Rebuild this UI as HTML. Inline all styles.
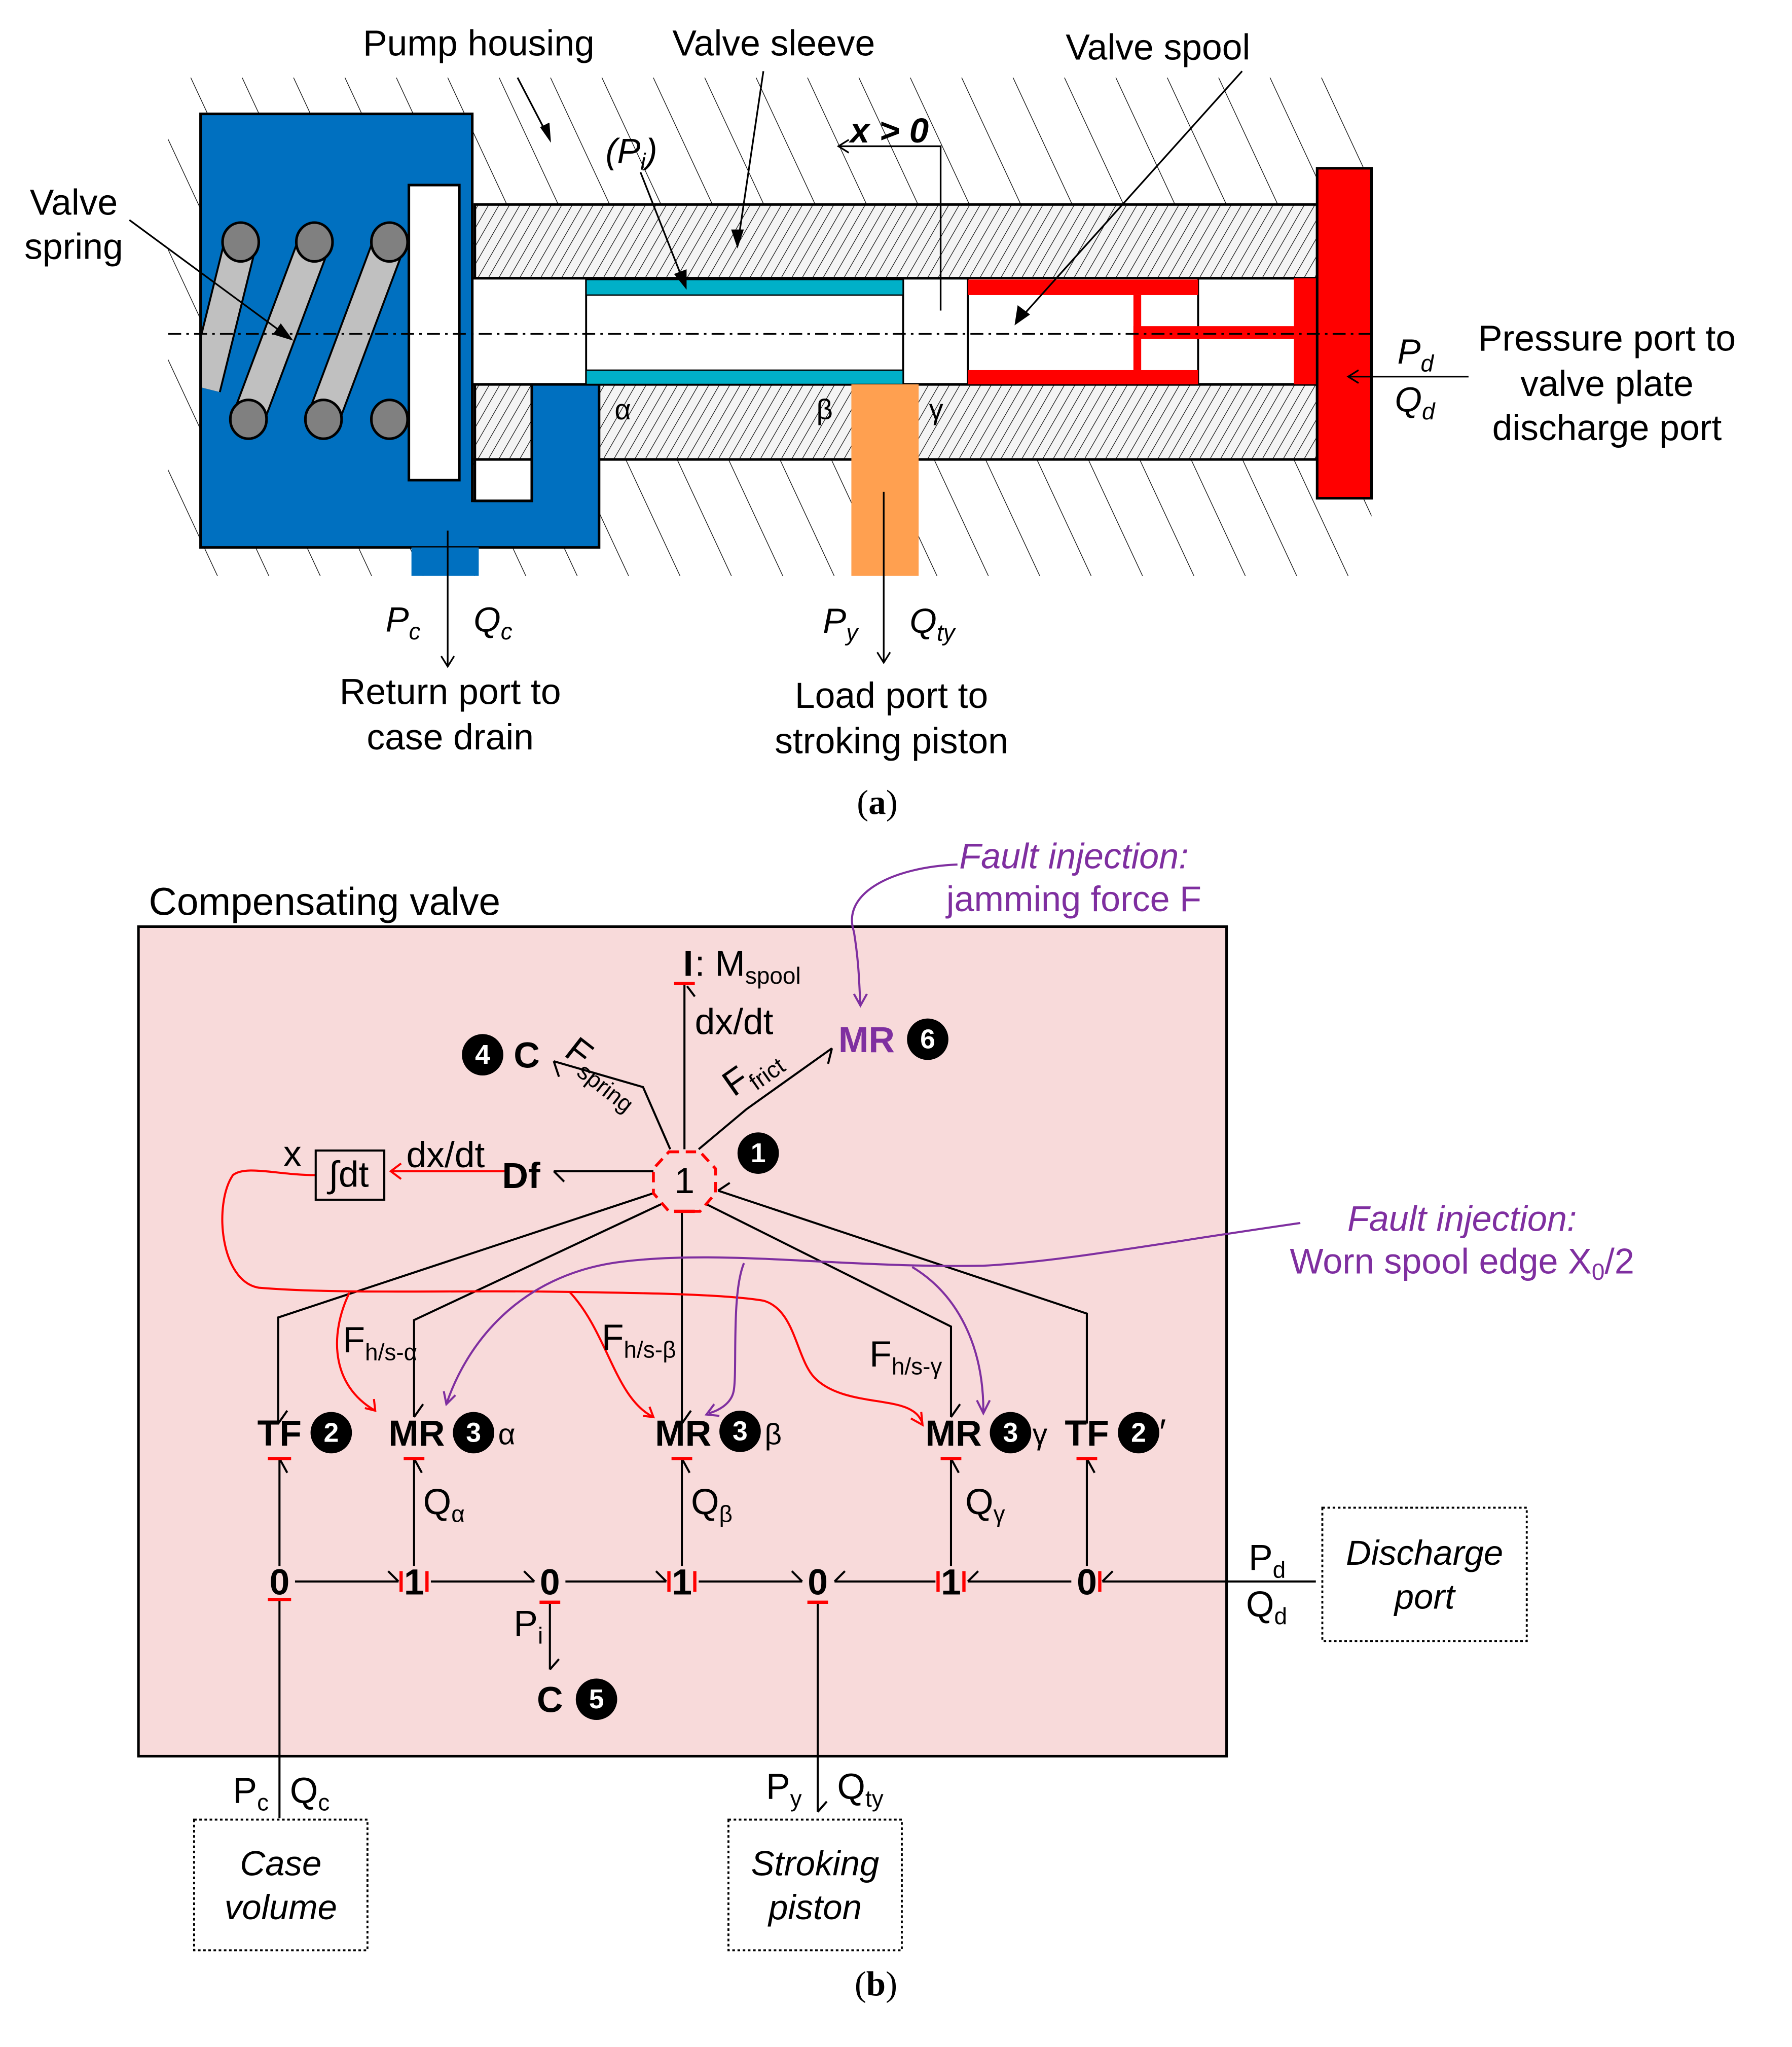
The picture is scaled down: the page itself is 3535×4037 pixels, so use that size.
<!DOCTYPE html>
<html><head><meta charset="utf-8"><style>html,body{margin:0;padding:0;background:#fff}svg{display:block}</style></head>
<body>
<svg xmlns="http://www.w3.org/2000/svg" width="3535" height="4037" viewBox="0 0 1385 1581.7" font-family="Liberation Sans, sans-serif">
<defs>
<pattern id="hb" width="36" height="36" patternUnits="userSpaceOnUse" patternTransform="rotate(-25)">
<line x1="0" y1="0" x2="0" y2="36" stroke="#000" stroke-width="1"/></pattern>
<pattern id="hs" width="7" height="7" patternUnits="userSpaceOnUse" patternTransform="rotate(30)">
<rect width="7" height="7" fill="#f4f4f4"/><line x1="0" y1="0" x2="0" y2="7" stroke="#000" stroke-width="0.9"/></pattern>
<clipPath id="body"><rect x="156" y="89" width="209" height="333"/></clipPath>
</defs>
<rect x="130" y="60" width="930" height="385" fill="url(#hb)"/>
<rect x="367" y="158" width="651" height="57" fill="url(#hs)" stroke="#000" stroke-width="2"/>
<rect x="367" y="297" width="651" height="58" fill="url(#hs)" stroke="#000" stroke-width="2"/>
<rect x="355" y="215" width="663" height="82" fill="#fff" stroke="#000" stroke-width="2"/>
<path d="M155 88 H365 V387 H411 V297 H463 V423 H155 Z" fill="#0070c0" stroke="#000" stroke-width="2"/>
<rect x="367" y="355" width="44" height="32" fill="#fff" stroke="#000" stroke-width="2"/>
<rect x="318" y="423" width="52" height="22" fill="#0070c0"/>
<g stroke="#000" stroke-width="1.5" clip-path="url(#body)">
<line x1="158" y1="300" x2="186" y2="187" stroke="#000" stroke-width="26"/>
<line x1="158" y1="300" x2="186" y2="187" stroke="#c0c0c0" stroke-width="23"/>
<line x1="192" y1="323" x2="243" y2="187" stroke="#000" stroke-width="26"/>
<line x1="192" y1="323" x2="243" y2="187" stroke="#c0c0c0" stroke-width="23"/>
<line x1="250" y1="323" x2="301" y2="187" stroke="#000" stroke-width="26"/>
<line x1="250" y1="323" x2="301" y2="187" stroke="#c0c0c0" stroke-width="23"/>
<ellipse cx="186" cy="187" rx="14" ry="15" fill="#808080" stroke-width="2"/>
<ellipse cx="243" cy="187" rx="14" ry="15" fill="#808080" stroke-width="2"/>
<ellipse cx="301" cy="187" rx="14" ry="15" fill="#808080" stroke-width="2"/>
<ellipse cx="192" cy="324" rx="14" ry="15" fill="#808080" stroke-width="2"/>
<ellipse cx="250" cy="324" rx="14" ry="15" fill="#808080" stroke-width="2"/>
<ellipse cx="301" cy="324" rx="14" ry="15" fill="#808080" stroke-width="2"/>
</g>
<rect x="316" y="143" width="39" height="228" fill="#fff" stroke="#000" stroke-width="2"/>
<rect x="453" y="215" width="245" height="82" fill="#fff" stroke="#000" stroke-width="1.5"/>
<rect x="453" y="216" width="245" height="12" fill="#00b0c8" stroke="#000" stroke-width="1"/>
<rect x="453" y="286" width="245" height="11" fill="#00b0c8" stroke="#000" stroke-width="1"/>
<rect x="748" y="215" width="178" height="82" fill="#fff" stroke="#000" stroke-width="1.5"/>
<rect x="748" y="216" width="178" height="12" fill="#ff0000"/>
<rect x="748" y="286" width="178" height="11" fill="#ff0000"/>
<rect x="876" y="228" width="6" height="58" fill="#ff0000"/>
<rect x="876" y="252" width="124" height="10" fill="#ff0000"/>
<rect x="1000" y="215" width="18" height="82" fill="#ff0000"/>
<rect x="1018" y="130" width="42" height="255" fill="#ff0000" stroke="#000" stroke-width="2"/>
<rect x="658" y="297" width="52" height="148" fill="#ffa050"/>
<line x1="130" y1="258" x2="1060" y2="258" stroke="#000" stroke-width="1.3" stroke-dasharray="10 4 2 4"/>
<g stroke="#000" stroke-width="1.3" fill="none">
<line x1="400" y1="60" x2="425" y2="108"/><path d="M418 98 L425 108 L424 95" fill="#000"/>
<line x1="590" y1="55" x2="570" y2="190"/><path d="M566 178 L570 190 L574 178Z" fill="#000"/>
<line x1="495" y1="133" x2="530" y2="222"/><path d="M522 212 L530 222 L530 209Z" fill="#000"/>
<line x1="960" y1="55" x2="785" y2="250"/><path d="M787 237 L785 250 L795 243Z" fill="#000"/>
<line x1="100" y1="170" x2="225" y2="262"/><path d="M212 258 L225 262 L217 251Z" fill="#000"/>
<polyline points="648,113 727,113 727,240"/><path d="M656 108 L648 113 L656 118"/>
<line x1="1135" y1="291" x2="1042" y2="291"/><path d="M1050 286 L1042 291 L1050 296"/>
<line x1="346" y1="410" x2="346" y2="515"/><path d="M341 507 L346 515 L351 507"/>
<line x1="683" y1="380" x2="683" y2="512"/><path d="M678 504 L683 512 L688 504"/>
</g>
<g font-size="28" text-anchor="middle" fill="#000">
<text x="370" y="43">Pump housing</text>
<text x="598" y="43">Valve sleeve</text>
<text x="895" y="46">Valve spool</text>
<text x="57" y="166">Valve</text><text x="57" y="200">spring</text>
<text x="1242" y="271">Pressure port to</text>
<text x="1242" y="306">valve plate</text>
<text x="1242" y="340">discharge port</text>
<text x="348" y="544">Return port to</text><text x="348" y="579">case drain</text>
<text x="689" y="547">Load port to</text><text x="689" y="582">stroking piston</text>
</g>
<g font-size="27" font-style="italic">
<text x="468" y="126">(P<tspan font-size="18" dy="5">i</tspan><tspan dy="-5">)</tspan></text>
<text x="657" y="110" font-weight="bold">x &gt; 0</text>
<text x="1080" y="281">P<tspan font-size="18" dy="6">d</tspan></text>
<text x="1078" y="318">Q<tspan font-size="18" dy="6">d</tspan></text>
<text x="298" y="488">P<tspan font-size="18" dy="6">c</tspan></text>
<text x="366" y="488">Q<tspan font-size="18" dy="6">c</tspan></text>
<text x="636" y="489">P<tspan font-size="18" dy="6">y</tspan></text>
<text x="703" y="489">Q<tspan font-size="18" dy="6">ty</tspan></text>
</g>
<g font-size="22" fill="#000"><text x="475" y="324">α</text><text x="631" y="324">β</text><text x="718" y="324">γ</text></g>
<text x="678" y="629" font-family="Liberation Serif, serif" font-size="27" text-anchor="middle">(<tspan font-weight="bold">a</tspan>)</text>

<text x="115" y="707" font-size="30">Compensating valve</text>
<rect x="107" y="716" width="841" height="641" fill="#f8dada" stroke="#000" stroke-width="2"/>
<g fill="#7f2fa0" font-size="27.5" text-anchor="middle">
<text x="830" y="671" font-style="italic">Fault injection:</text>
<text x="830" y="704">jamming force F</text>
<text x="1130" y="951" font-style="italic">Fault injection:</text>
<text x="1130" y="984">Worn spool edge X<tspan font-size="18" dy="5">0</tspan><tspan dy="-5">/2</tspan></text>
</g>
<g stroke="#000" stroke-width="1.6" fill="none">
<line x1="529" y1="888" x2="529" y2="760"/><path d="M537 770 L531 762"/>
<polyline points="518,888 497,840 428,820"/><path d="M428 820 L432 832"/>
<polyline points="540,888 577,857 643,810"/><path d="M643 810 L640 822"/>
<line x1="505" y1="905" x2="428" y2="905"/><path d="M428 905 L436 913"/>
<polyline points="505,922 215,1018 215,1100"/><path d="M215 1100 L222 1090"/>
<polyline points="512,930 320,1020 320,1095"/><path d="M320 1095 L327 1085"/>
<line x1="527" y1="937" x2="527" y2="1100"/><path d="M527 1100 L534 1090"/>
<polyline points="545,930 735,1025 735,1095"/><path d="M735 1095 L742 1085"/>
<polyline points="555,920 840,1015 840,1100"/><path d="M555 920 L564 914"/>
<line x1="216" y1="1210" x2="216" y2="1127"/><path d="M216 1127 L222 1138"/>
<line x1="320" y1="1210" x2="320" y2="1127"/><path d="M320 1127 L326 1138"/>
<line x1="527" y1="1210" x2="527" y2="1127"/><path d="M527 1127 L533 1138"/>
<line x1="735" y1="1210" x2="735" y2="1127"/><path d="M735 1127 L741 1138"/>
<line x1="840" y1="1210" x2="840" y2="1127"/><path d="M840 1127 L846 1138"/>
<line x1="228" y1="1222" x2="308" y2="1222"/><path d="M308 1222 L300 1214"/>
<line x1="333" y1="1222" x2="413" y2="1222"/><path d="M413 1222 L405 1214"/>
<line x1="437" y1="1222" x2="515" y2="1222"/><path d="M515 1222 L507 1214"/>
<line x1="540" y1="1222" x2="620" y2="1222"/><path d="M620 1222 L612 1214"/>
<line x1="645" y1="1222" x2="723" y2="1222"/><path d="M645 1222 L653 1214"/>
<line x1="748" y1="1222" x2="828" y2="1222"/><path d="M748 1222 L756 1214"/>
<line x1="852" y1="1222" x2="1017" y2="1222"/><path d="M852 1222 L860 1214"/>
<line x1="425" y1="1237" x2="425" y2="1290"/><path d="M425 1290 L432 1282"/>
<line x1="216" y1="1237" x2="216" y2="1405"/>
<line x1="632" y1="1237" x2="632" y2="1400"/><path d="M632 1400 L639 1392"/>
</g>
<g stroke="#ff0000" stroke-width="2.5">
<line x1="521" y1="760" x2="537" y2="760"/>
<line x1="207" y1="1127" x2="225" y2="1127"/><line x1="312" y1="1127" x2="328" y2="1127"/>
<line x1="519" y1="1127" x2="535" y2="1127"/><line x1="727" y1="1127" x2="743" y2="1127"/>
<line x1="832" y1="1127" x2="848" y2="1127"/>
<line x1="310" y1="1214" x2="310" y2="1230"/><line x1="330" y1="1214" x2="330" y2="1230"/>
<line x1="517" y1="1214" x2="517" y2="1230"/><line x1="537" y1="1214" x2="537" y2="1230"/>
<line x1="725" y1="1214" x2="725" y2="1230"/><line x1="745" y1="1214" x2="745" y2="1230"/>
<line x1="850" y1="1214" x2="850" y2="1230"/>
<line x1="207" y1="1236" x2="225" y2="1236"/><line x1="417" y1="1238" x2="433" y2="1238"/>
<line x1="624" y1="1238" x2="640" y2="1238"/><line x1="521" y1="936" x2="537" y2="936"/>
</g>
<polygon points="517,890 541,890 553,903 553,922 541,936 517,936 505,922 505,903" fill="none" stroke="#ff0000" stroke-width="2.2" stroke-dasharray="8 5"/>
<g stroke="#ff0000" stroke-width="1.6" fill="none">
<line x1="390" y1="905" x2="302" y2="905"/><path d="M310 899 L302 905 L310 911"/>
<path d="M244 908 C215 908 190 900 180 908 C165 930 170 990 200 995 C260 1000 350 997 420 998 C500 999 560 1000 590 1005 C615 1012 615 1050 630 1065 C650 1085 690 1080 705 1090 C710 1093 712 1097 713 1100"/>
<path d="M704 1096 L713 1101 L712 1091"/>
<path d="M270 999 C255 1030 255 1070 290 1090"/><path d="M282 1088 L290 1090 L289 1081"/>
<path d="M440 998 C470 1030 475 1080 505 1095"/><path d="M497 1094 L505 1095 L502 1087"/>
</g>
<rect x="244" y="889" width="53" height="38" fill="none" stroke="#000" stroke-width="1.6"/>
<g stroke="#7f2fa0" stroke-width="1.6" fill="none">
<path d="M740 668 C690 670 650 690 660 720 C664 745 664 760 665 777"/><path d="M660 768 L665 777 L670 768"/>
<path d="M1005 945 C900 960 820 975 760 978 C650 980 560 965 480 975 C400 985 360 1040 345 1085"/><path d="M343 1075 L345 1085 L352 1078"/>
<path d="M575 976 C565 1000 570 1060 567 1075 C565 1085 555 1090 548 1092"/><path d="M552 1085 L546 1093 L556 1094"/>
<path d="M705 979 C740 1000 760 1040 760 1090"/><path d="M755 1082 L760 1092 L765 1082"/>
</g>
<g font-size="28" fill="#000">
<text x="528" y="754" font-weight="bold">I</text><text x="537" y="754">: M<tspan font-size="18" dy="6">spool</tspan></text>
<text x="537" y="799">dx/dt</text>
<text x="314" y="902">dx/dt</text>
<text x="219" y="901">x</text>
<text x="254" y="917">∫dt</text>
<text x="388" y="918" font-weight="bold">Df</text>
<text x="397" y="825" font-weight="bold">C</text>
<text x="648" y="813" font-weight="bold"><tspan fill="#7f2fa0">MR</tspan></text>
<text x="529" y="922" text-anchor="middle">1</text>
<text x="0" y="0" transform="translate(435,815) rotate(38)">F<tspan font-size="18" dy="6">spring</tspan></text>
<text x="0" y="0" transform="translate(567,848) rotate(-35)">F<tspan font-size="18" dy="6">frict</tspan></text>
<g font-weight="bold" text-anchor="middle">
<text x="216" y="1117">TF</text><text x="322" y="1117">MR</text><text x="528" y="1117">MR</text>
<text x="737" y="1117">MR</text><text x="840" y="1117">TF</text>
<text x="216" y="1232">0</text><text x="320" y="1232">1</text><text x="425" y="1232">0</text><text x="527" y="1232">1</text>
<text x="632" y="1232">0</text><text x="735" y="1232">1</text><text x="840" y="1232">0</text>
<text x="425" y="1323">C</text>
</g>
<text x="385" y="1116" font-size="23">α</text><text x="591" y="1116" font-size="23">β</text>
<text x="798" y="1116" font-size="23">γ</text><text x="896" y="1116">′</text>
<text x="265" y="1045">F<tspan font-size="18" dy="6">h/s-α</tspan></text>
<text x="465" y="1043">F<tspan font-size="18" dy="6">h/s-β</tspan></text>
<text x="672" y="1056">F<tspan font-size="18" dy="6">h/s-γ</tspan></text>
<text x="327" y="1170">Q<tspan font-size="18" dy="6">α</tspan></text>
<text x="534" y="1170">Q<tspan font-size="18" dy="6">β</tspan></text>
<text x="746" y="1170">Q<tspan font-size="18" dy="6">γ</tspan></text>
<text x="397" y="1264">P<tspan font-size="18" dy="6">i</tspan></text>
<text x="965" y="1213">P<tspan font-size="18" dy="6">d</tspan></text>
<text x="963" y="1249">Q<tspan font-size="18" dy="6">d</tspan></text>
<text x="180" y="1393">P<tspan font-size="18" dy="6">c</tspan></text>
<text x="224" y="1393">Q<tspan font-size="18" dy="6">c</tspan></text>
<text x="592" y="1390">P<tspan font-size="18" dy="6">y</tspan></text>
<text x="647" y="1390">Q<tspan font-size="18" dy="6">ty</tspan></text>
</g>
<g font-size="21" font-weight="bold" text-anchor="middle">
<circle cx="373" cy="815" r="16"/><text x="373" y="822" fill="#fff">4</text>
<circle cx="717" cy="803" r="16"/><text x="717" y="810" fill="#fff">6</text>
<circle cx="586" cy="891" r="16"/><text x="586" y="898" fill="#fff">1</text>
<circle cx="256" cy="1107" r="16"/><text x="256" y="1114" fill="#fff">2</text>
<circle cx="366" cy="1107" r="16"/><text x="366" y="1114" fill="#fff">3</text>
<circle cx="572" cy="1106" r="16"/><text x="572" y="1113" fill="#fff">3</text>
<circle cx="781" cy="1107" r="16"/><text x="781" y="1114" fill="#fff">3</text>
<circle cx="880" cy="1107" r="16"/><text x="880" y="1114" fill="#fff">2</text>
<circle cx="461" cy="1313" r="16"/><text x="461" y="1320" fill="#fff">5</text>
</g>
<g fill="none" stroke="#000" stroke-width="1.5" stroke-dasharray="2 2">
<rect x="1022" y="1165" width="158" height="103"/>
<rect x="150" y="1406" width="134" height="101"/>
<rect x="563" y="1406" width="134" height="101"/>
</g>
<g font-size="27" font-style="italic" text-anchor="middle">
<text x="1101" y="1209">Discharge</text><text x="1101" y="1243">port</text>
<text x="217" y="1449">Case</text><text x="217" y="1483">volume</text>
<text x="630" y="1449">Stroking</text><text x="630" y="1483">piston</text>
</g>
<text x="677" y="1542" font-family="Liberation Serif, serif" font-size="27" text-anchor="middle">(<tspan font-weight="bold">b</tspan>)</text>
</svg>
</body></html>
